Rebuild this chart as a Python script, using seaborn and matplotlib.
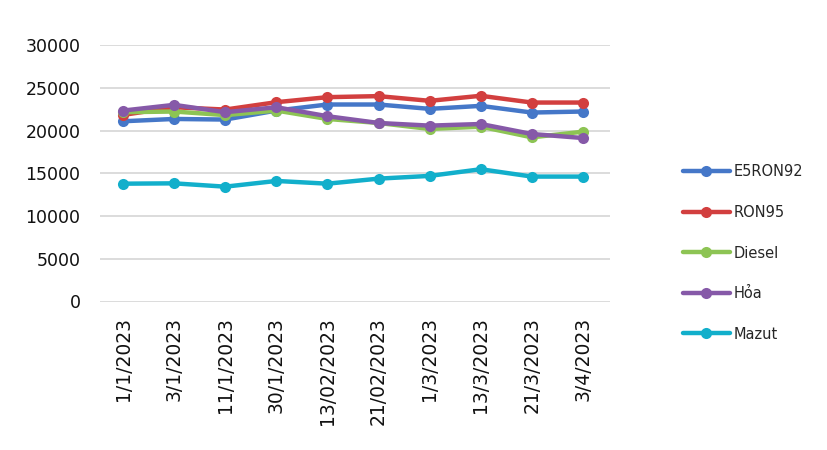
import matplotlib
matplotlib.use('Agg')
import pandas as pd
import matplotlib.pyplot as plt
import seaborn as sns

dates = ['1/1/2023', '3/1/2023', '11/1/2023', '30/1/2023', '13/02/2023',
         '21/02/2023', '1/3/2023', '13/3/2023', '21/3/2023', '3/4/2023']
e5ron92 = [21080, 21350, 21280, 22330, 23040, 23040, 22530, 22880, 22100, 22220]
ron95 = [21820, 22720, 22450, 23310, 23900, 24020, 23470, 24060, 23270, 23270]
diesel = [22140, 22220, 21800, 22330, 21350, 20880, 20180, 20450, 19200, 19860]
hoa = [22330, 23000, 22140, 22720, 21670, 20880, 20570, 20760, 19590, 19120]
mazut = [13780, 13820, 13430, 14100, 13780, 14370, 14690, 15470, 14610, 14610]

series = ['E5RON92', 'RON95', 'Diesel', 'Hỏa', 'Mazut']
colors = ['#4577C8', '#D23F3F', '#8DC454', '#8659A8', '#12AFCB']

rows = []
for name, vals in zip(series, [e5ron92, ron95, diesel, hoa, mazut]):
    for i, v in enumerate(vals):
        rows.append({'idx': i, 'price': v, 'fuel': name})
df = pd.DataFrame(rows)

sns.set_style('white')
plt.rcParams['font.family'] = ['DejaVu Sans']

fig = plt.figure(figsize=(8.28, 4.5), dpi=100)
ax = fig.add_axes([0.1208, 0.33, 0.616, 0.57])

sns.lineplot(data=df, x='idx', y='price', hue='fuel', hue_order=series,
             palette=colors, marker='o', markersize=8, markeredgewidth=0,
             linewidth=3.2, sort=False, ax=ax, legend=False)

ax.set_ylim(0, 30000)
ax.set_xlim(-0.45, 9.53)
ax.set_yticks(range(0, 30001, 5000))
ax.set_xticks(range(len(dates)))
ax.set_xticklabels(dates, rotation=90, fontsize=13.5, color='#111111')
ax.tick_params(axis='y', labelsize=12.5, labelcolor='#111111', length=0, pad=14)
ax.tick_params(axis='x', length=0, pad=11)
ax.set_xlabel('')
ax.set_ylabel('')
ax.yaxis.grid(True, color='#d9d9d9', linewidth=1.3)
ax.set_axisbelow(True)
for s in ax.spines.values():
    s.set_visible(False)

handles = ax.get_lines()[:len(series)]
leg = fig.legend(handles, series, loc='center left',
                 bbox_to_anchor=(683 / 828, 1 - 253 / 450),
                 frameon=False, fontsize=10.5, labelspacing=1.75,
                 handlelength=3.2, handletextpad=0.25,
                 borderpad=0, borderaxespad=0)

fig.savefig('out.png', dpi=100)
